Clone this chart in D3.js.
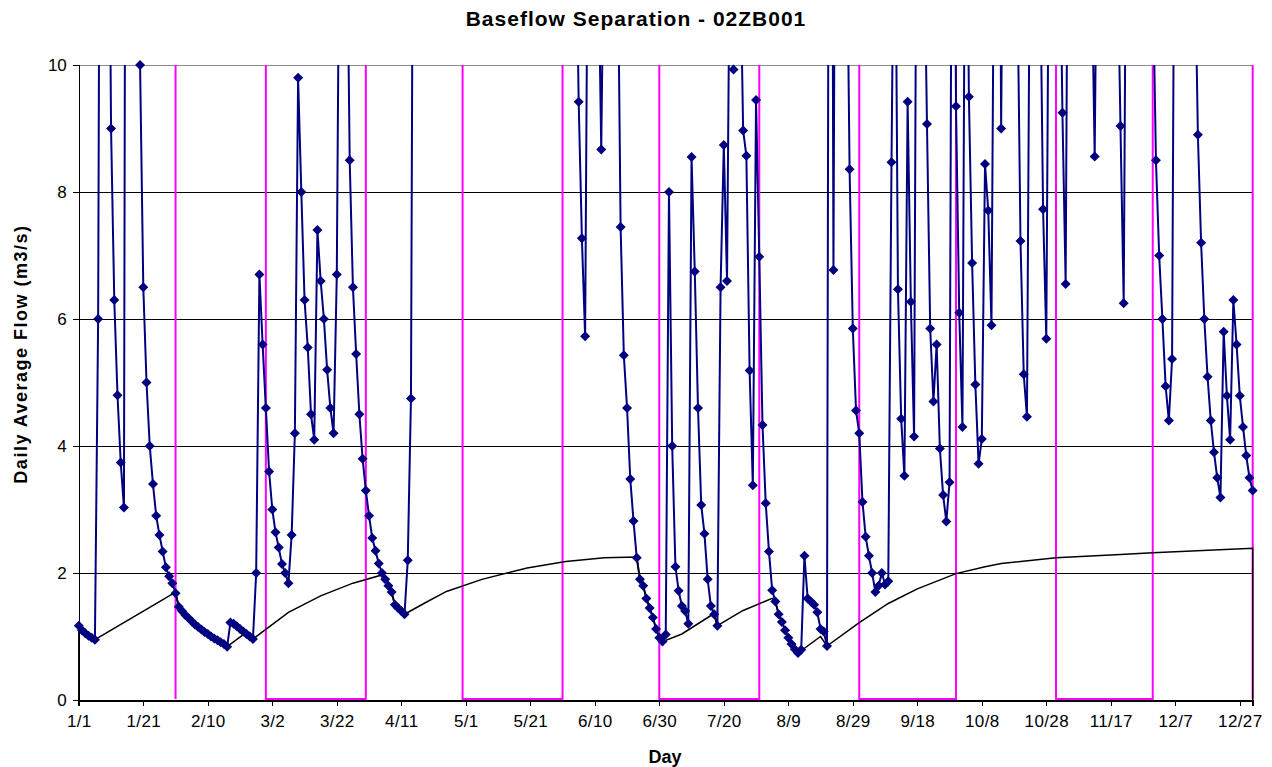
<!DOCTYPE html>
<html>
<head>
<meta charset="utf-8">
<script src="https://cdn.jsdelivr.net/npm/d3@7"></script>
<style>
  body { margin: 0; background: #fff; }
  text { font-family: "Liberation Sans", Arial, sans-serif; fill: #000; }
  .axis path, .axis line { stroke: #000; shape-rendering: crispEdges; }
</style>
</head>
<body>
<svg id="chart" width="1272" height="767"></svg>
<script>
// x categories: day of year 1..365, labelled every 20 days
const tickDays   = [1, 21, 41, 61, 81, 101, 121, 141, 161, 181, 201, 221, 241, 261, 281, 301, 321, 341, 361]
const tickLabels = ["1/1","1/21","2/10","3/2","3/22","4/11","5/1","5/21","6/10","6/30","7/20","8/9","8/29","9/18","10/8","10/28","11/17","12/7","12/27"]
const yTicks = [0, 2, 4, 6, 8, 10]

// daily average flow (m3/s), one value per day, values above 10 run off the chart
const flow = [
  1.17, 1.10, 1.05, 1.01, 0.98, 0.95, 6.0, 22, 30, 16,
  9.0, 6.3, 4.8, 3.74, 3.03, 28, 35, 24, 16, 10.0,
  6.5, 5.0, 4.0, 3.4, 2.9, 2.6, 2.34, 2.09, 1.95, 1.84,
  1.68, 1.47, 1.4, 1.34, 1.29, 1.24, 1.19, 1.15, 1.11, 1.07,
  1.04, 1.0, 0.97, 0.94, 0.91, 0.88, 0.84, 1.22, 1.2, 1.16,
  1.12, 1.08, 1.04, 1.0, 0.96, 2.0, 6.7, 5.6, 4.6, 3.6,
  3.0, 2.64, 2.4, 2.14, 2.0, 1.84, 2.6, 4.2, 9.8, 8.0,
  6.3, 5.55, 4.5, 4.1, 7.4, 6.6, 6.0, 5.2, 4.6, 4.2,
  6.7, 14, 20, 13, 8.5, 6.5, 5.45, 4.5, 3.8, 3.3,
  2.9, 2.55, 2.35, 2.15, 2.0, 1.9, 1.8, 1.7, 1.5, 1.45,
  1.4, 1.35, 2.2, 4.75, 18.5, 24.1, 31.0, 27.4, 22.8, 19.6,
  17.2, 15.9, 21.3, 26.7, 34.2, 30.1, 25.5, 22.0, 19.4, 17.8,
  16.5, 15.2, 14.6, 16.9, 20.3, 24.8, 22.1, 19.7, 18.0, 16.4,
  15.1, 14.2, 13.6, 13.1, 15.8, 19.2, 17.5, 16.0, 14.8, 13.9,
  13.2, 12.7, 12.4, 14.1, 16.8, 15.3, 14.2, 13.4, 12.8, 12.3,
  11.9, 11.6, 13.5, 15.7, 12.9, 9.42, 7.27, 5.73, 14, 19,
  16, 12, 8.67, 13, 18, 22, 17, 12.5, 7.45, 5.43,
  4.6, 3.48, 2.82, 2.24, 1.9, 1.8, 1.6, 1.45, 1.3, 1.12,
  0.98, 0.92, 1.03, 8.0, 4.0, 2.1, 1.72, 1.48, 1.4, 1.2,
  8.55, 6.75, 4.6, 3.07, 2.62, 1.9, 1.48, 1.35, 1.17, 6.5,
  8.74, 6.6, 13, 9.93, 15, 12, 8.97, 8.57, 5.19, 3.38,
  9.45, 6.98, 4.33, 3.1, 2.34, 1.73, 1.55, 1.35, 1.23, 1.1,
  0.98, 0.88, 0.8, 0.74, 0.79, 2.27, 1.6, 1.55, 1.5, 1.38,
  1.12, 1.08, 0.85, 25, 6.77, 20, 28, 17, 13, 8.36,
  5.85, 4.56, 4.2, 3.12, 2.57, 2.27, 2.0, 1.7, 1.8, 2.0,
  1.82, 1.87, 8.47, 14, 6.47, 4.43, 3.53, 9.42, 6.27, 4.15,
  16, 21, 12.5, 9.07, 5.85, 4.7, 5.6, 3.96, 3.23, 2.81,
  3.43, 18, 9.35, 6.1, 4.3, 15, 9.5, 6.88, 4.97, 3.72,
  4.11, 8.44, 7.71, 5.9, 14, 19, 9.0, 16, 24, 18,
  14, 11.5, 7.23, 5.13, 4.46, 13, 20, 17, 12, 7.73,
  5.69, 14, 22, 19, 13, 9.25, 6.55, 16, 25, 30,
  22, 18, 15, 13, 11.8, 8.56, 14, 20, 26, 21,
  17, 14, 12, 9.04, 6.25, 15, 22, 28, 33, 25,
  20, 16, 13, 11.5, 8.5, 7.0, 6.0, 4.94, 4.4, 5.37,
  16, 24, 30, 26, 20, 15, 12, 8.9, 7.2, 6.0,
  5.09, 4.4, 3.9, 3.5, 3.19, 5.8, 4.79, 4.1, 6.3, 5.6,
  4.79, 4.3, 3.85, 3.5, 3.3
]

// separated baseflow, vertices of the black line [day, m3/s]
const baseflow = [
  [1, 0], [1, 1.17], [2, 1.10], [3, 1.05], [4, 1.01], [5, 0.98], [6, 0.95],
  [23, 1.46], [31, 1.7], [32, 1.47], [35, 1.29], [40, 1.07], [44, 0.94], [47, 0.84],
  [52, 1.03], [55, 0.96], [66, 1.38], [76, 1.64], [86, 1.84], [95, 1.97],
  [96, 1.9], [97, 1.8], [98, 1.7], [99, 1.5], [100, 1.45], [101, 1.4], [102, 1.35],
  [108, 1.52], [115, 1.71], [126, 1.9], [140, 2.08], [152, 2.18], [164, 2.24], [174, 2.25],
  [175, 1.9], [176, 1.8], [177, 1.6], [178, 1.45], [179, 1.3], [180, 1.12], [181, 0.98], [182, 0.92],
  [188, 1.04], [197, 1.33], [198, 1.35], [199, 1.17], [207, 1.41], [216, 1.6],
  [217, 1.55], [218, 1.35], [219, 1.23], [220, 1.1], [221, 0.98], [222, 0.88], [223, 0.8], [224, 0.74],
  [231, 1.0], [233, 0.85], [243, 1.22], [252, 1.52], [261, 1.75], [273, 1.99], [282, 2.1],
  [287, 2.15], [304, 2.24], [324, 2.29], [334, 2.32], [365, 2.39], [365, 0]
]

// month-end marker series (magenta), runs off the top between markers
const markDays = [31, 31, 59, 59, 90, 90, 120, 120, 151, 151, 181, 181, 212, 212, 243, 243, 273, 273, 304, 304, 334, 334, 365, 365]
const markVals = [0, 20, 20, 0, 0, 20, 20, 0, 0, 20, 20, 0, 0, 20, 20, 0, 0, 20, 20, 0, 0, 20, 20, 0]

const svg = d3.select("#chart")
const plotL = 78.8, plotR = 1252.7, plotT = 65, plotB = 700

const x = d3.scaleLinear().domain([1, 365]).range([plotL, plotR])
const y = d3.scaleLinear().domain([0, 10]).range([plotB, plotT])

svg.append("defs").append("clipPath").attr("id", "plotclip")
  .append("rect")
  .attr("x", plotL - 2).attr("y", plotT)
  .attr("width", plotR - plotL + 4).attr("height", plotB - plotT + 3)

// Gridlines
svg.append("g").selectAll("line").data(yTicks.filter(d => d > 0))
  .enter().append("line")
  .attr("x1", plotL).attr("x2", plotR)
  .attr("y1", d => y(d) + 0.5).attr("y2", d => y(d) + 0.5)
  .attr("stroke", d => d == 10 ? "#8c8c8c" : "#000")
  .attr("stroke-width", 1)
  .style("shape-rendering", "crispEdges")

// Axes
let xAxis = svg.append("g").attr("class", "axis")
  .attr("transform", `translate(0,${plotB})`)
  .call(d3.axisBottom(x).tickValues(tickDays)
    .tickFormat((d, i) => tickLabels[i]).tickSize(6).tickPadding(9))
xAxis.select(".domain").attr("stroke-width", 2)
xAxis.selectAll("text").attr("font-size", 17).style("letter-spacing", "0.4px")

let yAxis = svg.append("g").attr("class", "axis")
  .attr("transform", `translate(${plotL},0)`)
  .call(d3.axisLeft(y).tickValues(yTicks).tickSize(6).tickPadding(6))
yAxis.selectAll("text").attr("font-size", 17)

let plot = svg.append("g").attr("clip-path", "url(#plotclip)")

// Month markers
plot.append("path")
  .datum(markDays.map((d, i) => [d, markVals[i]]))
  .attr("fill", "none")
  .attr("stroke", "#ff00ff")
  .attr("stroke-width", 2)
  .attr("d", d3.line().x(d => x(d[0])).y(d => y(d[1]) - 1))

// Flow line
plot.append("path")
  .datum(flow)
  .attr("fill", "none")
  .attr("stroke", "#000080")
  .attr("stroke-width", 2)
  .attr("stroke-linejoin", "round")
  .attr("d", d3.line().x((d, i) => x(i + 1)).y(d => y(d)))

// Diamonds, only where the value is on the chart
svg.append("g").selectAll("path")
  .data(flow.map((v, i) => [i + 1, v]).filter(d => d[1] <= 10))
  .enter().append("path")
  .attr("transform", d => `translate(${x(d[0])},${y(d[1])})`)
  .attr("d", "M0,-5L5,0L0,5L-5,0Z")
  .attr("fill", "#000080")

// Baseflow
plot.append("path")
  .datum(baseflow)
  .attr("fill", "none")
  .attr("stroke", "#000")
  .attr("stroke-width", 1.5)
  .attr("d", d3.line().x(d => x(d[0])).y(d => y(d[1])))

// Titles
svg.append("text")
  .attr("x", 636).attr("y", 26)
  .attr("text-anchor", "middle")
  .attr("font-size", 21).attr("font-weight", "bold")
  .style("letter-spacing", "1px")
  .text("Baseflow Separation - 02ZB001")

svg.append("text")
  .attr("x", 665).attr("y", 763)
  .attr("text-anchor", "middle")
  .attr("font-size", 18).attr("font-weight", "bold")
  .text("Day")

svg.append("text")
  .attr("transform", "translate(27,354) rotate(-90)")
  .attr("text-anchor", "middle")
  .attr("font-size", 18).attr("font-weight", "bold")
  .style("letter-spacing", "1.5px")
  .text("Daily Average Flow (m3/s)")
</script>
</body>
</html>
